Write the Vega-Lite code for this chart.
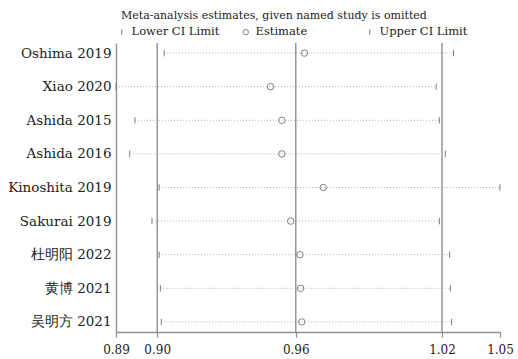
{
  "$schema": "https://vega.github.io/schema/vega-lite/v6.json",
  "width": 384,
  "height": 289,
  "autosize": {"type": "none"},
  "padding": {"left": 116, "top": 43, "right": 18, "bottom": 27},
  "background": "white",
  "config": {"view": {"stroke": null}, "font": "DejaVu Serif"},
  "title": {"text": "Meta-analysis estimates, given named study is omitted", "anchor": "start", "frame": "group", "dx": 5, "fontSize": 11, "fontWeight": "normal", "font": "DejaVu Serif", "color": "#222", "offset": 5},
  "datasets": {
    "studies": [
      {"study": "Oshima 2019", "Lower CI Limit": 0.9056, "Estimate": 0.9641, "Upper CI Limit": 1.0263},
      {"study": "Xiao 2020", "Lower CI Limit": 0.8855, "Estimate": 0.9500, "Upper CI Limit": 1.0191},
      {"study": "Ashida 2015", "Lower CI Limit": 0.8934, "Estimate": 0.9547, "Upper CI Limit": 1.0204},
      {"study": "Ashida 2016", "Lower CI Limit": 0.8912, "Estimate": 0.9547, "Upper CI Limit": 1.0229},
      {"study": "Kinoshita 2019", "Lower CI Limit": 0.9035, "Estimate": 0.9720, "Upper CI Limit": 1.0457},
      {"study": "Sakurai 2019", "Lower CI Limit": 0.9005, "Estimate": 0.9584, "Upper CI Limit": 1.0204},
      {"study": "杜明阳 2022", "Lower CI Limit": 0.9035, "Estimate": 0.9622, "Upper CI Limit": 1.0247},
      {"study": "黄博 2021", "Lower CI Limit": 0.9040, "Estimate": 0.9625, "Upper CI Limit": 1.0250},
      {"study": "吴明方 2021", "Lower CI Limit": 0.9044, "Estimate": 0.9630, "Upper CI Limit": 1.0255}
    ],
    "overall": [
      {"value": 0.9027},
      {"value": 0.9605},
      {"value": 1.0215}
    ]
  },
  "layer": [
    {
      "data": {"name": "overall"},
      "mark": {"type": "rule", "color": "#8f8f8f", "strokeWidth": 1.4},
      "encoding": {
        "x": {"field": "value", "type": "quantitative", "scale": {"domain": [0.8855, 1.0457], "nice": false, "zero": false},
          "axis": {"values": [0.8855, 0.9027, 0.9605, 1.0215, 1.0457], "format": ".2f", "title": null, "grid": false,
            "labelFlush": false, "labelOverlap": false,
            "domainColor": "#8f8f8f", "domainWidth": 1.4, "tickColor": "#8f8f8f", "tickWidth": 1.2, "tickSize": 5,
            "labelFont": "DejaVu Serif", "labelFontSize": 12, "labelColor": "#222", "labelPadding": 7}}
      }
    },
    {
      "data": {"name": "studies"},
      "mark": {"type": "rule", "color": "#b0b0b0", "strokeWidth": 1, "strokeDash": [1, 2]},
      "encoding": {
        "x": {"field": "Lower CI Limit", "type": "quantitative"},
        "x2": {"field": "Upper CI Limit"},
        "y": {"field": "study", "type": "nominal", "sort": null, "scale": {"type": "point", "padding": 0.3},
          "axis": {"title": null, "ticks": false, "domainColor": "#8f8f8f", "domainWidth": 1.4,
            "labelFont": "DejaVu Serif", "labelFontSize": 13.5, "labelColor": "#222", "labelPadding": 5}}
      }
    },
    {
      "data": {"name": "studies"},
      "transform": [{"fold": ["Lower CI Limit", "Estimate", "Upper CI Limit"], "as": ["kind", "val"]}],
      "mark": {"type": "point", "filled": false, "color": "#7f7f7f", "strokeWidth": 1, "size": 42, "opacity": 1},
      "encoding": {
        "x": {"field": "val", "type": "quantitative"},
        "y": {"field": "study", "type": "nominal", "sort": null},
        "shape": {"field": "kind", "type": "nominal",
          "scale": {"domain": ["Lower CI Limit", "Estimate", "Upper CI Limit"], "range": ["M0,-1L0,1", "circle", "M0,-1L0,1"]},
          "legend": {"orient": "top", "direction": "horizontal", "columns": 3, "gridAlign": "all", "columnPadding": 20,
            "title": null, "offset": 5, "padding": 0, "labelFont": "DejaVu Serif", "labelFontSize": 11.5, "labelColor": "#222",
            "symbolSize": 30, "symbolStrokeColor": "#7f7f7f", "symbolStrokeWidth": 1, "labelOffset": 4}}
      }
    }
  ]
}
